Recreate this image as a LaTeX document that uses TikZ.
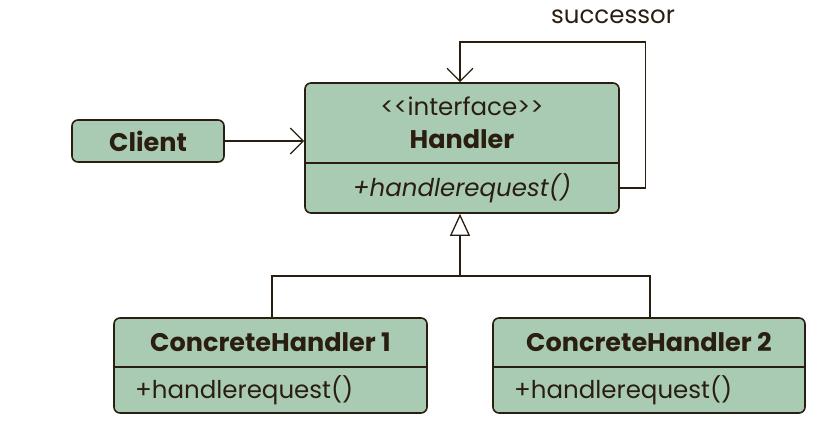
\documentclass[tikz,border=0pt]{standalone}
\usepackage{fontspec}
\setmainfont{Poppins}[Ligatures=NoCommon]
\usepackage{xcolor}
\usetikzlibrary{arrows.meta}
\definecolor{boxgreen}{HTML}{A9CBB3}
\definecolor{inkbrown}{HTML}{2A1E10}

\tikzset{
  umlbox/.style={draw=inkbrown, fill=boxgreen, line width=1.6pt, rounded corners=6pt, inner sep=0},
  umltext/.style={text=inkbrown, inner sep=0, font=\fontsize{24.5}{28}\selectfont},
  umlbold/.style={umltext, font=\fontsize{25.5}{28}\selectfont\bfseries},
  link/.style={draw=inkbrown, line width=1.3pt},
  openarrow/.style={-{Straight Barb[length=13pt, width=26pt, line width=1.3pt]}},
}

\begin{document}
\begin{tikzpicture}[x=1pt, y=-1pt]
\useasboundingbox (0,0) rectangle (826,446);

% ---------- Client ----------
\node[umlbox, minimum width=152pt, minimum height=42pt] (client) at (148,141) {};
\node[umlbold] (clientname) at (client.center) {Client};

% ---------- Handler ----------
\node[umlbox, minimum width=314pt, minimum height=130pt] (handler) at (462,148) {};
\draw[link, line width=1.2pt] (handler.west |- 0,163) -- (handler.east |- 0,163);
\node[umltext] (stereo) at (462,106) {{<}{<}interface{>}{>}};
\node[umlbold] (handlername) at (462,139) {Handler};
\node[umltext, font=\fontsize{24.5}{28}\selectfont\itshape] (handlerop) at (462,188) {+handlerequest()};

% ---------- Concrete handlers ----------
\node[umlbox, minimum width=313pt, minimum height=95pt] (chone) at (270.5,365.5) {};
\draw[link, line width=1.2pt] (chone.west |- 0,367) -- (chone.east |- 0,367);
\node[umlbold] (chonename) at (270.5,342) {ConcreteHandler 1};
\node[umltext, anchor=west] (choneop) at (135,390) {+handlerequest()};

\node[umlbox, minimum width=312pt, minimum height=95pt] (chtwo) at (649,365.5) {};
\draw[link, line width=1.2pt] (chtwo.west |- 0,367) -- (chtwo.east |- 0,367);
\node[umlbold] (chtwoname) at (649,342) {ConcreteHandler 2};
\node[umltext, anchor=west] (chtwoop) at (514,390) {+handlerequest()};

% ---------- Connectors ----------
\draw[link, openarrow] (client.east) -- (handler.west |- client.east);

\coordinate (succout) at (handler.east |- 0,188);
\coordinate (succin) at (460,0 |- handler.north);
\draw[link, openarrow] (succout) -- ++(26,0) |- (460,42) -- (succin);
\node[umltext] (succlabel) at (613,17) {successor};

\coordinate (join) at (460,276);
\draw[link] (chone.north -| 272,0) |- (join) -| (chtwo.north -| 650,0);
\draw[link, -{Triangle[open, length=22pt, width=20pt, line width=1.3pt, fill=white]}] (join) -- (460,0 |- handler.south);

\end{tikzpicture}
\end{document}
